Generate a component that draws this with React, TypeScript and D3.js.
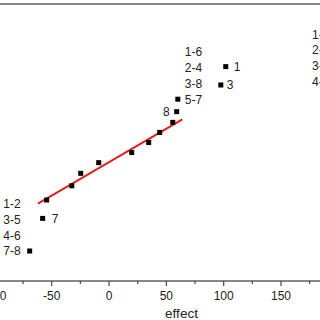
import React from "react";
import * as d3 from "d3";

// effects (x) and normal scores (y)
const effects = [-69.2, -57.9, -54.4, -32.5, -24.7, -9.0, 19.8, 34.6, 44.2, 55.6, 59.0, 60.0, 97.5, 101.8, 198];
const normalScores = [-1.83, -1.28, -0.97, -0.73, -0.52, -0.34, -0.17, 0, 0.17, 0.34, 0.52, 0.73, 0.97, 1.28, 1.83];

// reference line endpoints
const fitX = [-62, 64];
const fitY = [-1.03, 0.39];

const xTicks = [-100, -50, 0, 50, 100, 150, 200];
const xMinorTicks = [-75, -25, 25, 75, 125, 175];

// labels: index into effects, lines, placement
const labelGroups = [
  { idx: 0, lines: ["1-2", "3-5", "4-6", "7-8"], side: "left", dx: -9, lineAt: "bottom" },
  { idx: 1, lines: ["7"], side: "right", dx: 9, lineAt: "bottom" },
  { idx: 10, lines: ["8"], side: "left", dx: -7, lineAt: "bottom" },
  { idx: 11, lines: ["1-6", "2-4", "3-8", "5-7"], side: "right", dx: 7, lineAt: "bottom" },
  { idx: 12, lines: ["3"], side: "right", dx: 6, lineAt: "bottom" },
  { idx: 13, lines: ["1"], side: "right", dx: 8, lineAt: "bottom" },
  { idx: 14, lines: ["1-5", "2-6", "3-7", "4-8"], side: "right", dx: -24, lineAt: "top" },
];

export default function App() {
  const W = 320, H = 320;
  const x = d3.scaleLinear().domain([-50, 150]).range([51.7, 281]);
  const y = d3.scaleLinear().domain([-2.336, 2.336]).range([281, 4]);
  const axisY = y(-2.336);
  const font = "'Liberation Sans', Arial, sans-serif";
  const lineGen = d3.line<number>().x((d, i) => x(fitX[i])).y((d, i) => y(fitY[i]));
  const lh = 15.8;

  return (
    <div style={{ position: "fixed", left: 0, top: 0, width: W, height: H, background: "#fff" }}>
      <svg width={W} height={H} style={{ display: "block" }}>
        <rect x={0} y={0} width={W} height={H} fill="#fff" />
        {/* frame */}
        <rect x={-20} y={y(2.336)} width={W + 40} height={axisY - y(2.336)} fill="none" stroke="#555" strokeWidth={1.4} />
        {/* ticks */}
        {xTicks.map((t) => (
          <g key={"t" + t}>
            <line x1={x(t)} x2={x(t)} y1={axisY} y2={axisY + 5} stroke="#444" strokeWidth={1.2} />
            <text x={x(t)} y={axisY + 19} textAnchor="middle" fontFamily={font} fontSize={12} fill="#222">
              {t}
            </text>
          </g>
        ))}
        {xMinorTicks.map((t) => (
          <line key={"m" + t} x1={x(t)} x2={x(t)} y1={axisY} y2={axisY + 3} stroke="#444" strokeWidth={1.2} />
        ))}
        <text x={181.5} y={318} textAnchor="middle" fontFamily={font} fontSize={13.5} fill="#222">
          effect
        </text>
        {/* fit line */}
        <path d={lineGen(fitX) || ""} fill="none" stroke="#e01e1e" strokeWidth={2} />
        {/* points */}
        {effects.map((e, i) => (
          <rect key={"p" + i} x={x(e) - 2.5} y={y(normalScores[i]) - 2.5} width={5} height={5} fill="#000" />
        ))}
        {/* labels */}
        {labelGroups.map((g, gi) => {
          const px = x(effects[g.idx]);
          const py = y(normalScores[g.idx]);
          const n = g.lines.length;
          return g.lines.map((l, li) => {
            const cy = g.lineAt === "bottom" ? py - (n - 1 - li) * lh : py + li * lh;
            return (
              <text
                key={gi + "-" + li}
                x={px + g.dx}
                y={cy + 4.5}
                textAnchor={g.side === "left" ? "end" : "start"}
                fontFamily={font}
                fontSize={12}
                fill="#222"
              >
                {l}
              </text>
            );
          });
        })}
      </svg>
    </div>
  );
}
